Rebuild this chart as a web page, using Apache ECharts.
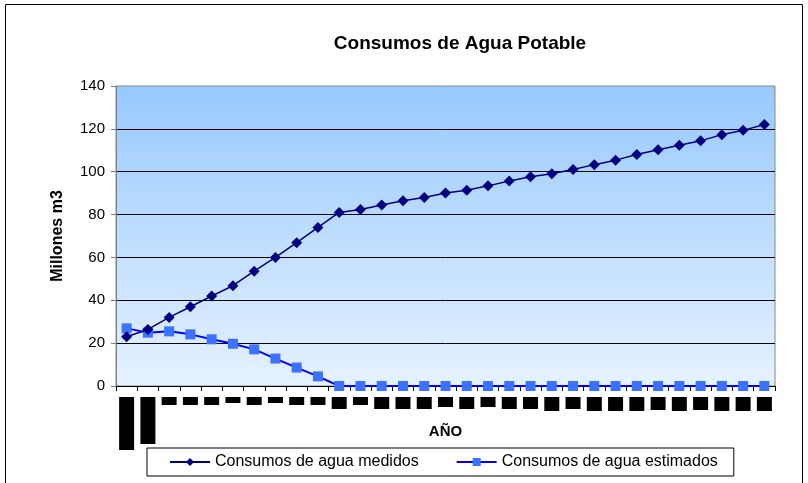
<!DOCTYPE html>
<html>
<head>
<meta charset="utf-8">
<script src="https://cdn.jsdelivr.net/npm/echarts@6/dist/echarts.min.js"></script>
<style>
  html, body { margin: 0; padding: 0; background: #fff; }
  #chart { width: 808px; height: 483px; }
</style>
</head>
<body>
<div id="chart"></div>
<script>
// Categories (year labels; rendered as black blocks like the reference)
const years = [
  '1990','1991','1992','1993','1994','1995','1996','1997','1998','1999',
  '2000','2001','2002','2003','2004','2005','2006','2007','2008','2009',
  '2010','2011','2012','2013','2014','2015','2016','2017','2018','2019','2020'
];
// Series values (millones m3)
const medidos = [
  23, 26.4, 32, 37, 42, 46.8, 53.6, 60, 66.9, 74,
  81, 82.4, 84.5, 86.5, 88, 90.1, 91.4, 93.4, 95.7, 97.6,
  99, 101, 103.3, 105.4, 108, 110.2, 112.3, 114.4, 117.3, 119.3, 122
];
const estimados = [
  26.9, 24.9, 25.5, 24.1, 21.8, 19.7, 17.1, 12.8, 8.6, 4.5,
  0, 0, 0, 0, 0, 0, 0, 0, 0, 0,
  0, 0, 0, 0, 0, 0, 0, 0, 0, 0, 0
];
const yTicks = { min: 0, max: 140, interval: 20 };
const seriesNames = ['Consumos de agua medidos', 'Consumos de agua estimados'];

// Style only: heights of the black label blocks under the x axis
const labelBlockHeights = [53,47,8,8,8,6,8,6,8,8,12,8,12,12,12,10,12,10,12,12,14,12,14,14,14,13,14,13,14,14,14];

const FONT = 'Liberation Sans, Arial, sans-serif';
const rich = {};
labelBlockHeights.forEach((h, i) => {
  rich['h' + i] = {
    width: 15, height: h, lineHeight: h,
    backgroundColor: '#000', color: '#000',
    fontSize: 5, align: 'center', verticalAlign: 'top'
  };
});

const chart = echarts.init(document.getElementById('chart'), null, { renderer: 'canvas' });
chart.setOption({
  animation: false,
  backgroundColor: '#fff',
  textStyle: { fontFamily: FONT },
  title: {
    text: 'Consumos de Agua Potable',
    left: 455, top: 29, textAlign: 'center',
    textStyle: { fontFamily: FONT, fontSize: 19, fontWeight: 'bold', color: '#000' }
  },
  graphic: [{
    type: 'rect', silent: true, z: -1,
    shape: { x: 5.5, y: 4.5, width: 797, height: 490 },
    style: { fill: 'none', stroke: '#000', lineWidth: 1 }
  }],
  grid: {
    left: 116, right: 33, top: 86, bottom: 97,
    show: true, borderColor: '#888', borderWidth: 1,
    backgroundColor: {
      type: 'linear', x: 0, y: 0, x2: 0, y2: 1,
      colorStops: [{ offset: 0, color: '#97C9FD' }, { offset: 1, color: '#E6F2FF' }]
    }
  },
  legend: {
    left: 147, top: 448,
    data: seriesNames,
    itemWidth: 40, itemHeight: 10, itemGap: 37,
    padding: [6, 16, 6, 22],
    borderColor: '#000', borderWidth: 1,
    textStyle: { fontFamily: FONT, fontSize: 16, color: '#000' }
  },
  xAxis: {
    type: 'category',
    data: years,
    boundaryGap: true,
    name: 'AÑO', nameLocation: 'middle', nameGap: 38, nameMoveOverlap: false,
    nameTextStyle: { fontFamily: FONT, fontSize: 15, fontWeight: 'bold', color: '#000' },
    axisLine: { lineStyle: { color: '#000', width: 1 } },
    axisTick: { show: true, length: 5, lineStyle: { color: '#000' } },
    axisLabel: {
      interval: 0, margin: 11,
      formatter: (v, i) => '{h' + i + '|' + v + '}',
      rich: rich
    },
    splitLine: { show: false }
  },
  yAxis: {
    type: 'value',
    min: yTicks.min, max: yTicks.max, interval: yTicks.interval,
    name: 'Millones m3', nameLocation: 'middle', nameGap: 50, nameRotate: 90, nameMoveOverlap: false,
    nameTextStyle: { fontFamily: FONT, fontSize: 16, fontWeight: 'bold', color: '#000' },
    axisLine: { show: true, lineStyle: { color: '#808080' } },
    axisTick: { show: true, length: 5, lineStyle: { color: '#808080' } },
    axisLabel: { fontFamily: FONT, fontSize: 15, color: '#000', margin: 11 },
    splitLine: { show: true, showMinLine: false, showMaxLine: false, lineStyle: { color: '#000', width: 1 } }
  },
  series: [
    {
      name: seriesNames[0], type: 'line', data: medidos,
      symbol: 'diamond', symbolSize: 11,
      lineStyle: { color: '#000080', width: 1.5 },
      itemStyle: { color: '#000080' },
      z: 3
    },
    {
      name: seriesNames[1], type: 'line', data: estimados,
      symbol: 'rect', symbolSize: 10,
      lineStyle: { color: '#0000FF', width: 2 },
      itemStyle: { color: '#3B72FF' },
      z: 2
    }
  ]
});
</script>
</body>
</html>
